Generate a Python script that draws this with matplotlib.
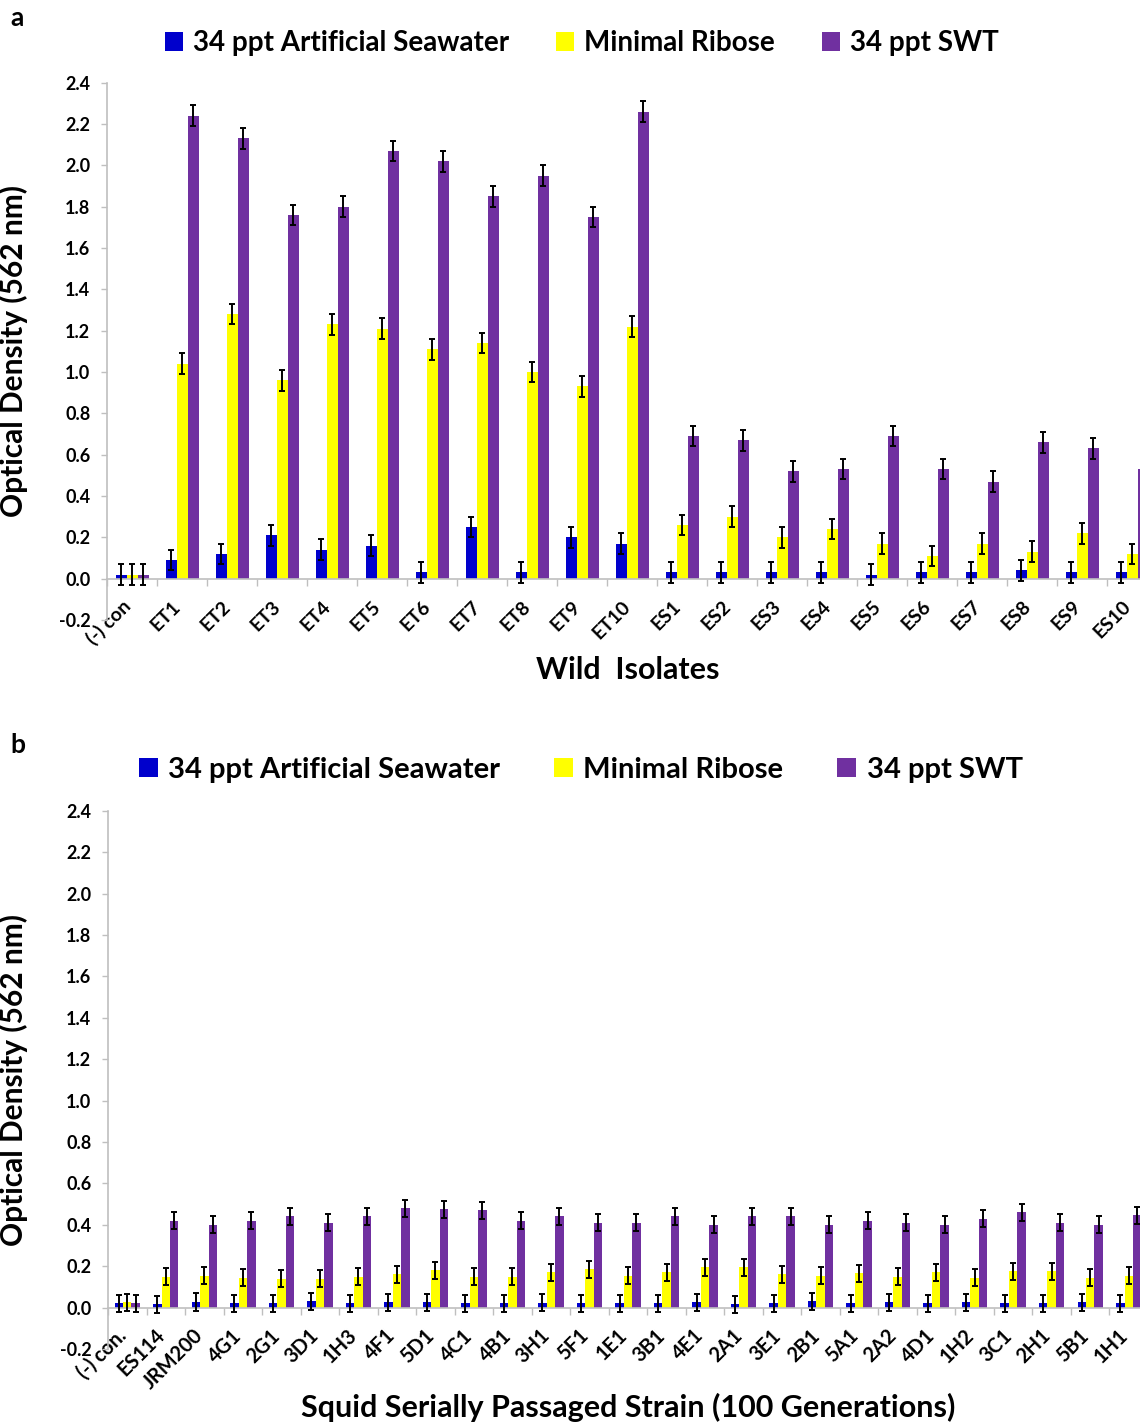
import numpy as np
import matplotlib
matplotlib.use("Agg")
import matplotlib.pyplot as plt
import matplotlib.transforms as mtransforms
from matplotlib.patches import Patch

plt.rcParams['font.family'] = ['Lato', 'DejaVu Sans']
plt.rcParams['axes.unicode_minus'] = False

series_names = ["34 ppt Artificial Seawater", "Minimal Ribose", "34 ppt SWT"]
colors = ["#0000CC", "#FFFF00", "#7030A0"]

# Panel a: wild isolates
cats_a = ["(-) con", "ET1", "ET2", "ET3", "ET4", "ET5", "ET6", "ET7", "ET8", "ET9", "ET10",
          "ES1", "ES2", "ES3", "ES4", "ES5", "ES6", "ES7", "ES8", "ES9", "ES10"]
asw_a = [0.02, 0.09, 0.12, 0.21, 0.14, 0.16, 0.03, 0.25, 0.03, 0.20, 0.17,
         0.03, 0.03, 0.03, 0.03, 0.02, 0.03, 0.03, 0.04, 0.03, 0.03]
mr_a = [0.02, 1.04, 1.28, 0.96, 1.23, 1.21, 1.11, 1.14, 1.00, 0.93, 1.22,
        0.26, 0.30, 0.20, 0.24, 0.17, 0.11, 0.17, 0.13, 0.22, 0.12]
swt_a = [0.02, 2.24, 2.13, 1.76, 1.80, 2.07, 2.02, 1.85, 1.95, 1.75, 2.26,
         0.69, 0.67, 0.52, 0.53, 0.69, 0.53, 0.47, 0.66, 0.63, 0.53]
err_a = 0.05

# Panel b: squid serially passaged strains
cats_b = ["(-) con.", "ES114", "JRM200", "4G1", "2G1", "3D1", "1H3", "4F1", "5D1", "4C1",
          "4B1", "3H1", "5F1", "1E1", "3B1", "4E1", "2A1", "3E1", "2B1", "5A1", "2A2",
          "4D1", "1H2", "3C1", "2H1", "5B1", "1H1"]
asw_b = [0.02, 0.016, 0.027, 0.02, 0.02, 0.03, 0.02, 0.026, 0.026, 0.02,
         0.02, 0.024, 0.02, 0.02, 0.02, 0.026, 0.015, 0.02, 0.03, 0.02, 0.026,
         0.02, 0.026, 0.02, 0.02, 0.026, 0.02]
mr_b = [0.026, 0.15, 0.155, 0.145, 0.14, 0.14, 0.15, 0.16, 0.18, 0.15,
        0.15, 0.17, 0.185, 0.155, 0.17, 0.195, 0.195, 0.16, 0.155, 0.165, 0.15,
        0.17, 0.145, 0.175, 0.175, 0.145, 0.155]
swt_b = [0.02, 0.42, 0.40, 0.42, 0.44, 0.41, 0.44, 0.48, 0.475, 0.47,
         0.42, 0.44, 0.41, 0.41, 0.44, 0.40, 0.44, 0.44, 0.40, 0.42, 0.41,
         0.40, 0.43, 0.46, 0.41, 0.40, 0.445]
err_b = 0.042

yticks = [-0.2, 0.0, 0.2, 0.4, 0.6, 0.8, 1.0, 1.2, 1.4, 1.6, 1.8, 2.0, 2.2, 2.4]

W, H = 1140, 1424
fig = plt.figure(figsize=(W / 100, H / 100), dpi=100)

gray = "#BFBFBF"
bold = dict(fontweight='bold')


def panel(rect_px, cats, vals, err, xlabel, xlabel_y, letter, letter_y, leg_y, leg_fs,
          leg_x0, colsp, tick_fs):
    x0, ytop, wpx, ybot = rect_px
    ax = fig.add_axes([x0 / W, 1 - ybot / H, wpx / W, (ybot - ytop) / H])
    n = len(cats)
    x = np.arange(n)
    w = 0.22
    for k, (v, c) in enumerate(zip(vals, colors)):
        ax.bar(x + (k - 1) * w, v, width=w, color=c, edgecolor='none', zorder=2,
               yerr=err, error_kw=dict(ecolor='black', elinewidth=1.4, capsize=2.2,
                                       capthick=1.4, zorder=3))
    ax.set_xlim(-0.5, n - 0.5)
    ax.set_ylim(-0.2, 2.4)
    ax.set_yticks(yticks)
    ax.set_yticklabels([f"{t:.1f}" for t in yticks], fontsize=13, **bold)
    ax.spines['bottom'].set_position(('data', 0))
    for s in ['top', 'right']:
        ax.spines[s].set_visible(False)
    for s in ['left', 'bottom']:
        ax.spines[s].set_color(gray)
        ax.spines[s].set_linewidth(1.2)
    ax.set_xticks(x)
    ax.set_xticklabels(cats, rotation=45, ha='right', va='baseline',
                       rotation_mode='anchor', fontsize=tick_fs, **bold)
    offset = mtransforms.ScaledTranslation(2 / 100, 0, fig.dpi_scale_trans)
    for lab in ax.get_xticklabels():
        lab.set_transform(lab.get_transform() + offset)
    ax.set_xticks(np.arange(-0.5, n, 1.0), minor=True)
    ax.tick_params(axis='x', which='major', length=0, pad=21)
    ax.tick_params(axis='x', which='minor', length=5, color=gray, width=1)
    ax.tick_params(axis='y', length=4, color=gray, width=1, pad=8)
    ax.set_ylabel("Optical Density (562 nm)", fontsize=21.5, **bold)
    ax.yaxis.set_label_coords(-(x0 - 28) / wpx, 0.5)
    fig.text(628 / W, 1 - xlabel_y / H, xlabel, ha='center', va='center',
             fontsize=22, **bold)
    fig.text(0.009, 1 - letter_y / H, letter, fontsize=19, ha='left', va='center', **bold)
    handles = [Patch(facecolor=c, edgecolor='none') for c in colors]
    fig.legend(handles, series_names, loc='center left', bbox_to_anchor=(leg_x0, 1 - leg_y / H),
               ncol=3, frameon=False, handlelength=0.65,
               handleheight=0.65, handletextpad=0.35, columnspacing=colsp,
               prop=dict(weight='bold', size=leg_fs))
    return ax


ax_a = panel((107, 82.7, 1050, 620), cats_a, [asw_a, mr_a, swt_a], err_a,
             "Wild  Isolates", 670, "a", 18, 43, 20, 0.123, 1.7, 14)
ax_b = panel((108, 810.7, 1040, 1349), cats_b, [asw_b, mr_b, swt_b], err_b,
             "Squid Serially Passaged Strain (100 Generations)", 1407, "b", 745, 770,
             21, 0.099, 1.85, 14.5)

fig.savefig("out.png", dpi=100)
